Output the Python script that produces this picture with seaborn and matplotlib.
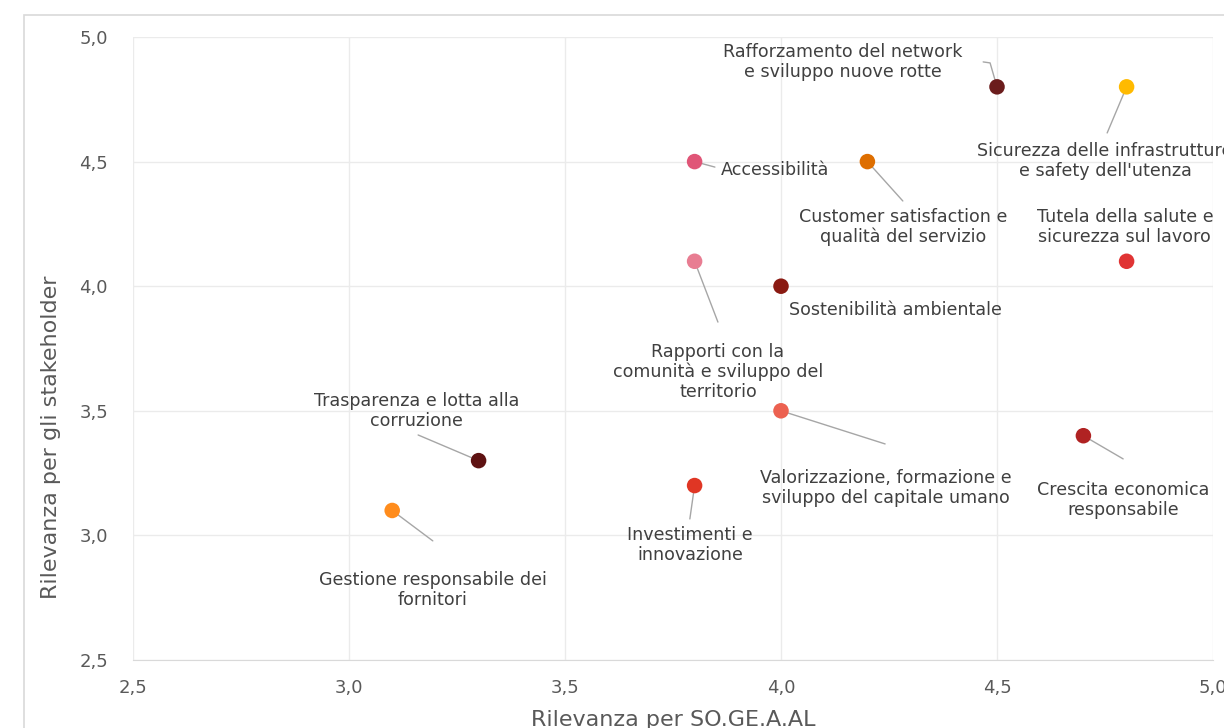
import seaborn as sns
import pandas as pd
import matplotlib.pyplot as plt
from matplotlib.patches import Rectangle

# data
temi = ["Rafforzamento del network\ne sviluppo nuove rotte",
        "Sicurezza delle infrastrutture\ne safety dell'utenza",
        "Accessibilità",
        "Customer satisfaction e\nqualità del servizio",
        "Tutela della salute e\nsicurezza sul lavoro",
        "Rapporti con la\ncomunità e sviluppo del\nterritorio",
        "Sostenibilità ambientale",
        "Trasparenza e lotta alla\ncorruzione",
        "Valorizzazione, formazione e\nsviluppo del capitale umano",
        "Crescita economica\nresponsabile",
        "Investimenti e\ninnovazione",
        "Gestione responsabile dei\nfornitori"]
rilevanza_sogeaal = [4.5, 4.8, 3.8, 4.2, 4.8, 3.8, 4.0, 3.3, 4.0, 4.7, 3.8, 3.1]
rilevanza_stakeholder = [4.8, 4.8, 4.5, 4.5, 4.1, 4.1, 4.0, 3.3, 3.5, 3.4, 3.2, 3.1]
colori = ["#6B1C1C", "#FFBA00", "#E05577", "#DE6E00", "#E03434", "#E87D92",
          "#8A1A12", "#5E1212", "#EC6150", "#B02222", "#E03624", "#FF8C1C"]
x_ticks = [2.5, 3.0, 3.5, 4.0, 4.5, 5.0]
y_ticks = [2.5, 3.0, 3.5, 4.0, 4.5, 5.0]

# label placement (text centre, leader line end) - layout only
label_pos = [(4.144, 4.90), (4.75, 4.502), (3.986, 4.466), (4.282, 4.238),
             (4.796, 4.238), (3.854, 3.656), (4.264, 3.904), (3.157, 3.499),
             (4.243, 3.190), (4.792, 3.142), (3.789, 2.961), (3.194, 2.781)]
leader_end = [(4.468, 4.90), (4.755, 4.615), (3.847, 4.478), (4.282, 4.342),
              None, (3.854, 3.856), None, (3.160, 3.403),
              (4.241, 3.367), (4.792, 3.307), (3.789, 3.066), (3.194, 2.978)]

df = pd.DataFrame({"tema": temi, "x": rilevanza_sogeaal, "y": rilevanza_stakeholder})

sns.set_style("white")
plt.rcParams['font.family'] = ['DejaVu Sans']

fig = plt.figure(figsize=(12.24, 7.28), dpi=100)
ax = fig.add_axes([133 / 1224, 1 - 660 / 728, 1080 / 1224, 623 / 728])

# outer chart border (cropped at right / bottom)
fig.patches.append(Rectangle((24 / 1224, -0.2), 1.2, 1.2 - 15 / 728, transform=fig.transFigure,
                             fill=False, edgecolor="#D9D9D9", linewidth=1.2, zorder=0))

# leader lines
for i, end in enumerate(leader_end):
    if end is None:
        continue
    if i == 0:
        ax.plot([rilevanza_sogeaal[i], 4.484, end[0]], [rilevanza_stakeholder[i], 4.896, end[1]],
                color="#A6A6A6", lw=1, zorder=2)
    else:
        ax.plot([rilevanza_sogeaal[i], end[0]], [rilevanza_stakeholder[i], end[1]],
                color="#A6A6A6", lw=1, zorder=2)

sns.scatterplot(data=df, x="x", y="y", hue="tema", palette=dict(zip(temi, colori)),
                s=125, linewidth=0, legend=False, ax=ax, zorder=3)

for i, t in enumerate(temi):
    ax.text(label_pos[i][0], label_pos[i][1], t, ha="center", va="center",
            fontsize=12.6, color="#404040", linespacing=1.1, zorder=4, clip_on=False)

ax.set_xlim(2.5, 5.0)
ax.set_ylim(2.5, 5.0)
ax.set_xticks(x_ticks)
ax.set_yticks(y_ticks)
ax.set_xticklabels([f"{v:.1f}".replace(".", ",") for v in x_ticks])
ax.set_yticklabels([f"{v:.1f}".replace(".", ",") for v in y_ticks])
ax.tick_params(axis="both", length=0, labelsize=13, labelcolor="#595959")
ax.tick_params(axis="x", pad=14)
ax.tick_params(axis="y", pad=18)
ax.grid(True, color="#EBEBEB", linewidth=1)
for side in ["top", "right", "left"]:
    ax.spines[side].set_visible(False)
ax.spines["bottom"].set_color("#D9D9D9")

ax.set_xlabel("Rilevanza per SO.GE.A.AL", fontsize=16, color="#595959", labelpad=9)
ax.set_ylabel("Rilevanza per gli stakeholder", fontsize=16, color="#595959")
ax.yaxis.set_label_coords(-0.067, 0.358)

fig.savefig("out.png", dpi=100)
